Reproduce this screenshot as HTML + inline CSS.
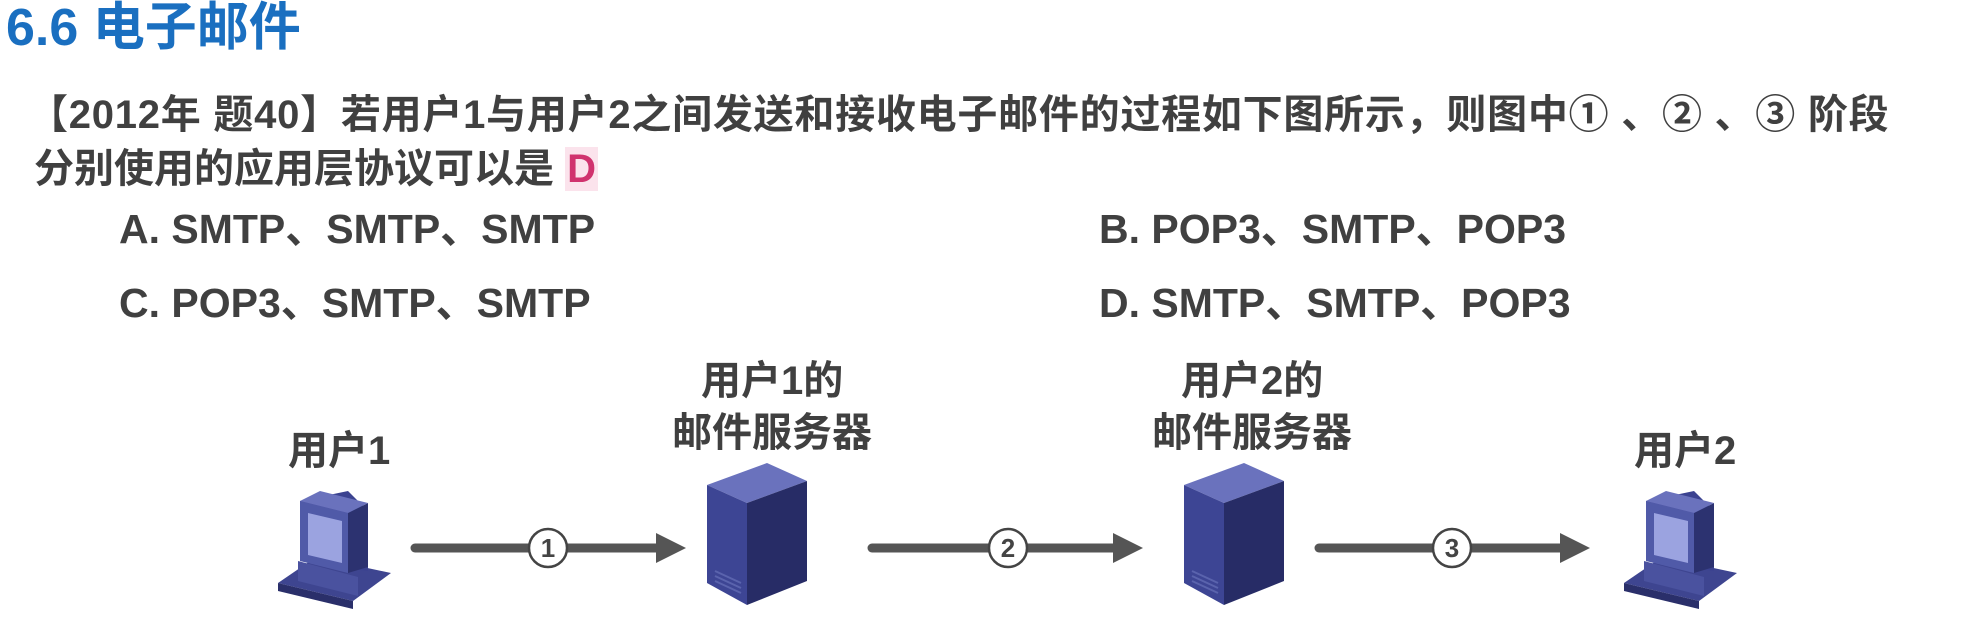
<!DOCTYPE html>
<html><head><meta charset="utf-8"><style>
body{margin:0;width:1963px;height:626px;background:#fff;position:relative;overflow:hidden;font-family:"Liberation Sans","Noto Sans CJK SC",sans-serif;font-weight:bold;color:#404040}
.t{position:absolute;white-space:nowrap}
</style></head><body>
<div class="t" style="left:6px;top:-15px;font-size:52px;color:#1a6fc0">6.6 电子邮件</div>
<div class="t" style="left:28px;top:82px;font-size:40px;letter-spacing:0.75px">【2012年 题40】若用户1与用户2之间发送和接收电子邮件的过程如下图所示，则图中① 、② 、③ 阶段</div>
<div class="t" style="left:34px;top:136px;font-size:40px">分别使用的应用层协议可以是 <span style="color:#d0336e;background:#fbe3ec;padding:0 2px">D</span></div>
<div class="t" style="left:119px;top:195px;font-size:41px">A. SMTP、SMTP、SMTP</div>
<div class="t" style="left:1099px;top:195px;font-size:41px">B. POP3、SMTP、POP3</div>
<div class="t" style="left:119px;top:269px;font-size:41px">C. POP3、SMTP、SMTP</div>
<div class="t" style="left:1099px;top:269px;font-size:41px">D. SMTP、SMTP、POP3</div>
<div class="t" style="left:288px;top:418px;font-size:40px">用户1</div>
<div class="t" style="left:701px;top:348px;font-size:40px">用户1的</div>
<div class="t" style="left:672px;top:400px;font-size:40px">邮件服务器</div>
<div class="t" style="left:1181px;top:348px;font-size:40px">用户2的</div>
<div class="t" style="left:1152px;top:400px;font-size:40px">邮件服务器</div>
<div class="t" style="left:1634px;top:418px;font-size:40px">用户2</div>
<svg width="1963" height="626" style="position:absolute;left:0;top:0">
<defs>
<g id="pc">
<polygon points="0,92 75,110 113,82 38,66" fill="#3e4590"/>
<polygon points="0,92 75,110 75,118 0,100" fill="#2a2f6a"/>
<polygon points="20,70 80,86 80,105 20,90" fill="#4a529f"/>
<polygon points="22,10 70,0 90,20 90,80 30,72 22,65" fill="#3b4290"/>
<polygon points="22,10 70,22 70,82 22,70" fill="#505aa8"/>
<polygon points="30,22 64,30 64,72 30,64" fill="#9ba3e0"/>
<polygon points="70,22 90,12 90,76 70,82" fill="#2c3270"/>
<polygon points="22,10 42,0 90,12 70,22" fill="#6a72bd"/>
</g>
<g id="sv">
<polygon points="0,22 60,0 100,18 40,40" fill="#6a72bd"/>
<polygon points="0,22 40,40 40,142 0,120" fill="#3d4594"/>
<polygon points="40,40 100,18 100,118 40,142" fill="#272c66"/>
<line x1="8" y1="108" x2="34" y2="120" stroke="#5a63ad" stroke-width="2"/>
<line x1="8" y1="113" x2="34" y2="125" stroke="#5a63ad" stroke-width="2"/>
<line x1="8" y1="118" x2="34" y2="130" stroke="#5a63ad" stroke-width="2"/>
</g>
</defs>
<use href="#pc" x="278" y="491"/>
<use href="#pc" x="1624" y="491"/>
<use href="#sv" x="707" y="463"/>
<use href="#sv" x="1184" y="463"/>
<g stroke="#555" stroke-width="9" stroke-linecap="round">
<line x1="415" y1="548" x2="660" y2="548"/>
<line x1="872" y1="548" x2="1117" y2="548"/>
<line x1="1319" y1="548" x2="1564" y2="548"/>
</g>
<g fill="#555">
<polygon points="656,533 686,548 656,563"/>
<polygon points="1113,533 1143,548 1113,563"/>
<polygon points="1560,533 1590,548 1560,563"/>
</g>
<g fill="#fff" stroke="#444" stroke-width="2.5">
<circle cx="548" cy="548" r="19"/><circle cx="1008" cy="548" r="19"/><circle cx="1452" cy="548" r="19"/>
</g>
<g font-family="Liberation Sans,sans-serif" font-size="26" fill="#444" text-anchor="middle">
<text x="548" y="557">1</text><text x="1008" y="557">2</text><text x="1452" y="557">3</text>
</g>
</svg>
</body></html>
